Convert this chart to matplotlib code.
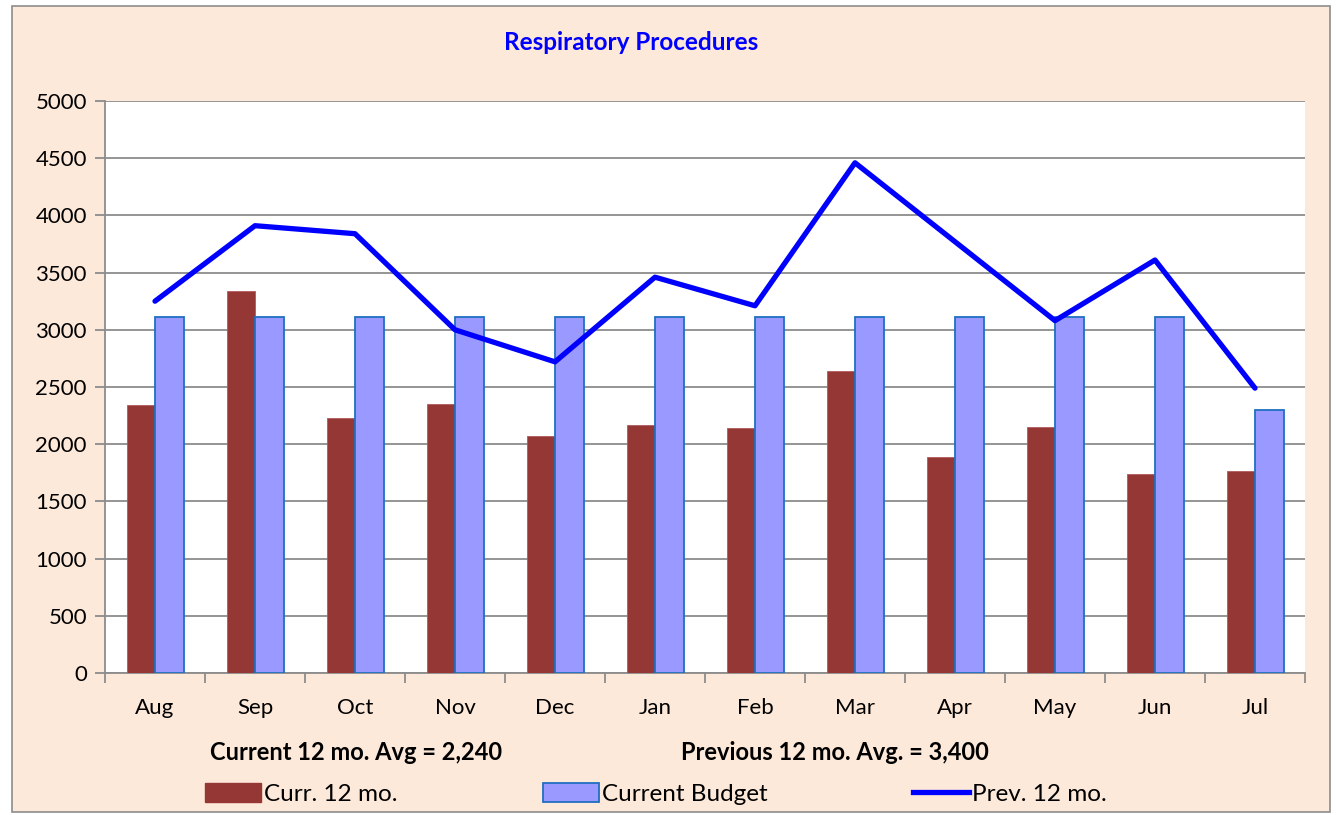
import matplotlib
matplotlib.use("Agg")
import matplotlib.pyplot as plt
import numpy as np
from matplotlib.patches import Rectangle, Patch
from matplotlib.lines import Line2D

months = ["Aug", "Sep", "Oct", "Nov", "Dec", "Jan", "Feb", "Mar", "Apr", "May", "Jun", "Jul"]
curr_12mo = [2340, 3340, 2230, 2350, 2070, 2170, 2140, 2640, 1890, 2150, 1740, 1770]
budget = [3110, 3110, 3110, 3110, 3110, 3110, 3110, 3110, 3110, 3110, 3110, 2300]
prev_12mo = [3250, 3910, 3840, 3000, 2720, 3460, 3210, 4460, 3770, 3080, 3610, 2490]
curr_avg = "2,240"
prev_avg = "3,400"

plt.rcParams["font.family"] = ["Lato", "DejaVu Sans"]

W, H = 1336, 815
fig = plt.figure(figsize=(W / 100, H / 100), dpi=100)
fig.patch.set_facecolor("white")
fig.add_artist(Rectangle((12 / W, 1 - 812 / H), (1330 - 12) / W, (812 - 6) / H,
                         transform=fig.transFigure, facecolor="#FDE9D9",
                         edgecolor="#8C8C8C", linewidth=1.2, zorder=0))

ax = fig.add_axes([105 / W, 1 - 673 / H, 1200 / W, 572 / H])
ax.set_facecolor("white")
x = np.arange(len(months))
bw = 0.285
ax.bar(x - bw / 2, curr_12mo, bw, color="#953735", edgecolor="#B05A58", linewidth=0.6, zorder=3)
ax.bar(x + bw / 2, budget, bw, color="#9999FF", edgecolor="#1F6FC0", linewidth=1.3, zorder=3)
ax.plot(x, prev_12mo, color="#0000FF", linewidth=3.8, solid_capstyle="round", zorder=4)

ax.set_xlim(-0.5, len(months) - 0.5)
ax.set_ylim(0, 5000)
ax.set_yticks(np.arange(0, 5001, 500))
ax.yaxis.grid(True, color="#8C8C8C", linewidth=1.3, zorder=0)
ax.set_axisbelow(True)
for s in ["top", "right"]:
    ax.spines[s].set_visible(False)
ax.spines["left"].set_color("#8C8C8C")
ax.spines["bottom"].set_color("#8C8C8C")
ax.spines["left"].set_linewidth(1.3)
ax.spines["bottom"].set_linewidth(1.3)

ax.set_xticks(np.arange(-0.5, len(months), 1.0))
ax.set_xticklabels([])
ax.set_xticks(x, minor=True)
ax.set_xticklabels(months, minor=True, fontsize=16)
ax.tick_params(axis="x", which="major", length=7, color="#8C8C8C", width=1.3)
ax.tick_params(axis="x", which="minor", length=0, pad=18)
ax.tick_params(axis="y", length=7, color="#8C8C8C", width=1.3, labelsize=16, pad=6)

fig.text(631 / W, 1 - 43 / H, "Respiratory Procedures", color="#0000FF",
         fontsize=17.5, fontweight="bold", ha="center", va="center")
fig.text(356 / W, 1 - 752 / H, f"Current 12 mo. Avg = {curr_avg}", fontsize=17,
         fontweight="bold", ha="center", va="center")
fig.text(835 / W, 1 - 752 / H, f"Previous 12 mo. Avg. = {prev_avg}", fontsize=17,
         fontweight="bold", ha="center", va="center")

handles = [Patch(facecolor="#953735", edgecolor="#953735"),
           Patch(facecolor="#9999FF", edgecolor="#1F6FC0", linewidth=1.3),
           Line2D([0], [0], color="#0000FF", linewidth=3.8)]
labels = ["Curr. 12 mo.", "Current Budget", "Prev. 12 mo."]
starts = [205, 543, 913]
for h, lab, xs in zip(handles, labels, starts):
    fig.legend([h], [lab], loc="center left", bbox_to_anchor=(xs / W, 1 - 794 / H),
               frameon=False, fontsize=17.5, handlelength=2.3, handleheight=0.85,
               handletextpad=0.12, borderpad=0, borderaxespad=0)

fig.savefig("out.png", dpi=100, facecolor=fig.get_facecolor())
